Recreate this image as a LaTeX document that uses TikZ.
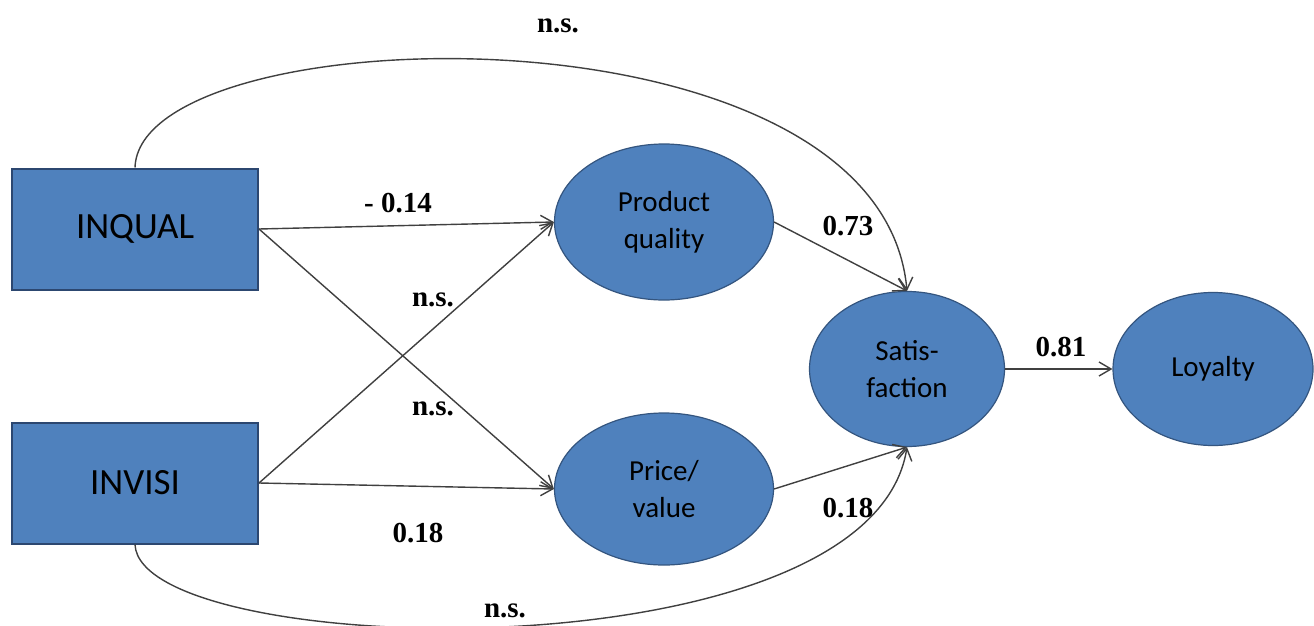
\documentclass[tikz,border=0pt]{standalone}
\usepackage{fontspec}
\setmainfont{Liberation Serif}
\newfontfamily\calib{Carlito}
\usetikzlibrary{shapes.geometric,arrows.meta}
\definecolor{boxfill}{HTML}{4F81BD}
\definecolor{boxline}{HTML}{2C4770}
\definecolor{ellline}{HTML}{34557F}
\definecolor{arrowcol}{HTML}{404040}
\tikzset{
  varbox/.style={draw=boxline, line width=2pt, fill=boxfill, minimum width=246pt, minimum height=121pt, inner sep=0pt, font=\calib\fontsize{37}{40}\selectfont},
  latent/.style={ellipse, draw=ellline, line width=1.2pt, fill=boxfill, inner sep=0pt, align=center, font=\calib\fontsize{29}{37}\selectfont},
  path/.style={draw=arrowcol, line width=1.4pt, -{Straight Barb[length=12pt,width=14pt,line width=1.4pt]}},
  coef/.style={font=\bfseries\fontsize{29}{30}\selectfont, inner sep=0pt}
}
\begin{document}
\begin{tikzpicture}[x=1pt,y=-1pt]
\clip (0,0) rectangle (1314,626);
\fill[white] (0,0) rectangle (1314,626);
\node[varbox] (INQUAL) at (135,229) {INQUAL};
\node[varbox] (INVISI) at (135,483) {INVISI};
\node[latent, minimum width=219pt, minimum height=156pt] (PQ) at (664,222) {Product\\quality};
\node[latent, minimum width=219pt, minimum height=152pt] (PV) at (664,489) {Price/\\value};
\node[latent, minimum width=195pt, minimum height=155pt] (Sat) at (907,369) {Satis-\\faction};
\node[latent, minimum width=200pt, minimum height=153pt] (Loy) at (1213,369) {Loyalty};

\draw[path] (INQUAL.east) -- (PQ.west);
\draw[path] (INQUAL.east) -- (PV.west);
\draw[path] (INVISI.east) -- (PQ.west);
\draw[path] (INVISI.east) -- (PV.west);
\draw[path] (PQ.east) -- (Sat.north);
\draw[path] (PV.east) -- (Sat.south);
\draw[path] (Sat.east) -- (Loy.west);
\draw[path] (INQUAL.north) .. controls (140,15) and (880,-5) .. (Sat.north);
\draw[path] (INVISI.south) .. controls (140,660) and (870,680) .. (Sat.south);

\node[coef] (l1) at (558,26) {n.s.};
\node[coef] (l2) at (398,203) {- 0.14};
\node[coef] (l3) at (433,300) {n.s.};
\node[coef] (l4) at (433,409) {n.s.};
\node[coef] (l5) at (418,533) {0.18};
\node[coef] (l6) at (848,226) {0.73};
\node[coef] (l7) at (1061,347) {0.81};
\node[coef] (l8) at (848,508) {0.18};
\node[coef] (l9) at (505,611) {n.s.};
\end{tikzpicture}
\end{document}
